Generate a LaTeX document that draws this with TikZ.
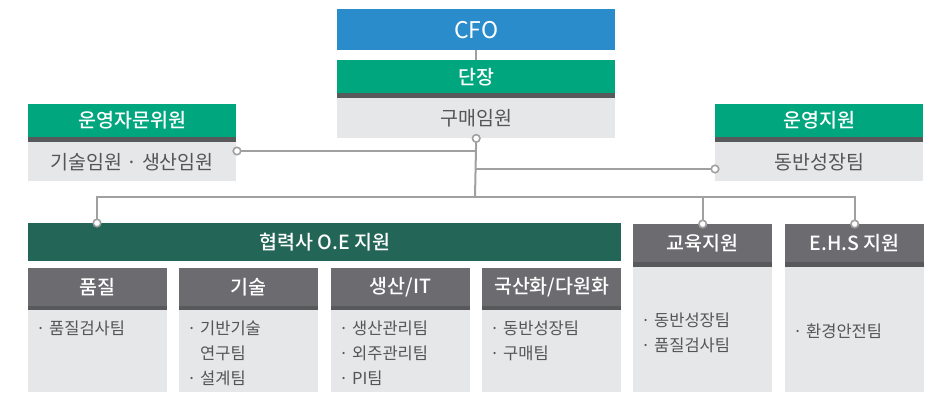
\documentclass[tikz,border=0pt]{standalone}
\usepackage{fontspec}
\setmainfont{Noto Sans CJK KR}
\newfontfamily\hdfont{Noto Sans CJK KR Medium}
\usepackage{tikz}
\usetikzlibrary{calc}

\definecolor{cfoblue}{HTML}{2A8CCB}
\definecolor{leadgreen}{HTML}{00A67E}
\definecolor{pinegreen}{HTML}{236658}
\definecolor{headgray}{HTML}{6B6B70}
\definecolor{stripgray}{HTML}{58595B}
\definecolor{boxgray}{HTML}{E6E7E9}
\definecolor{itemgray}{HTML}{555555}
\definecolor{wiregray}{HTML}{A0A0A0}

\tikzset{
	hd/.style={fill=#1, text=white, font=\hdfont\fontsize{19.5}{22}\selectfont, inner sep=0pt, anchor=north west},
	bd/.style={fill=boxgray, text=itemgray, font=\fontsize{19.5}{22}\selectfont, inner sep=0pt, anchor=north west},
	wire/.style={draw=wiregray, line width=2pt},
	dot/.style={circle, draw=wiregray, fill=white, line width=1.6pt, minimum size=7.5pt, inner sep=0pt},
	item/.style={text=itemgray, font=\fontsize{16.5}{25}\selectfont, align=left, inner sep=0pt},
}

\begin{document}
\begin{tikzpicture}[x=1pt, y=-1pt]
			%%%%% START %%%%%
			\useasboundingbox (0, 0) rectangle (929, 392);
			
			% top
			\node[hd=cfoblue, minimum width=278pt, minimum height=41pt, font=\fontsize{23}{26}\selectfont] (cfo) at (337, 9) {CFO};
			\node[hd=leadgreen, minimum width=278pt, minimum height=33pt] (dz) at (337, 60) {단장};
			\node[bd, minimum width=278pt, minimum height=40pt] (gm) at (337, 98) {구매임원};
			\fill[stripgray] (dz.south west) rectangle (gm.north east);
			
			% side boxes
			\node[hd=leadgreen, minimum width=208pt, minimum height=33pt] (adv) at (28, 104) {운영자문위원};
			\node[bd, minimum width=208pt, minimum height=39pt] (advb) at (28, 142) {기술임원 · 생산임원};
			\fill[stripgray] (adv.south west) rectangle (advb.north east);
			
			\node[hd=leadgreen, minimum width=208pt, minimum height=33pt] (op) at (715, 104) {운영지원};
			\node[bd, minimum width=208pt, minimum height=39pt] (opb) at (715, 142) {동반성장팀};
			\fill[stripgray] (op.south west) rectangle (opb.north east);
			
			% bottom row
			\node[hd=pinegreen, minimum width=593pt, minimum height=38pt] (hr) at (28, 223) {협력사 O.E 지원};
			
			\node[hd=headgray, minimum width=139pt, minimum height=38pt] (qa) at (28, 268) {품질};
			\node[bd, minimum width=139pt, minimum height=82pt] (qab) at (28, 310) {};
			\fill[stripgray] (qa.south west) rectangle (qab.north east);
			\node[hd=headgray, minimum width=139pt, minimum height=38pt] (tc) at (179, 268) {기술};
			\node[bd, minimum width=139pt, minimum height=82pt] (tcb) at (179, 310) {};
			\fill[stripgray] (tc.south west) rectangle (tcb.north east);
			\node[hd=headgray, minimum width=139pt, minimum height=38pt] (pd) at (331, 268) {생산/IT};
			\node[bd, minimum width=139pt, minimum height=82pt] (pdb) at (331, 310) {};
			\fill[stripgray] (pd.south west) rectangle (pdb.north east);
			\node[hd=headgray, minimum width=139pt, minimum height=38pt] (lc) at (482, 268) {국산화/다원화};
			\node[bd, minimum width=139pt, minimum height=82pt] (lcb) at (482, 310) {};
			\fill[stripgray] (lc.south west) rectangle (lcb.north east);
			
			\node[hd=headgray, minimum width=139pt, minimum height=38pt] (edu) at (633, 224) {교육지원};
			\node[bd, minimum width=139pt, minimum height=125pt] (edub) at (633, 267) {};
			\fill[stripgray] (edu.south west) rectangle (edub.north east);
			\node[hd=headgray, minimum width=139pt, minimum height=38pt] (ehs) at (785, 224) {E.H.S 지원};
			\node[bd, minimum width=139pt, minimum height=125pt] (ehsb) at (785, 267) {};
			\fill[stripgray] (ehs.south west) rectangle (ehsb.north east);
			
			% items
			\node[item, anchor=north west] (qai) at (36, 321) {· 품질검사팀};
			\node[item, anchor=north west] (tci) at (187, 321) {· 기반기술\\\hphantom{· }연구팀\\· 설계팀};
			\node[item, anchor=north west] (pdi) at (339, 321) {· 생산관리팀\\· 외주관리팀\\· PI팀};
			\node[item, anchor=north west] (lci) at (490, 321) {· 동반성장팀\\· 구매팀};
			\node[item, anchor=west] (edui) at (641, 333) {· 동반성장팀\\· 품질검사팀};
			\node[item, anchor=west] (ehsi) at (793, 331) {· 환경안전팀};
			
			% wires
			\coordinate (ad) at (237, 151);
			\coordinate (od) at (715, 169);
			\coordinate (hd) at (97, 223);
			\coordinate (bus) at (475, 197);
			
			\draw[wire] (cfo.south) -- (dz.north);
			\draw[wire] (gm.south) -- (bus);
			\draw[wire] (ad) -- (ad -| gm.south);
			\draw[wire] (od) -- (od -| gm.south);
			\draw[wire] (hd) |- (bus) -| (ehs.north);
			\draw[wire] (bus -| edu.north) -- (edu.north);
			
			\node[dot] (d1) at (gm.south) {};
			\node[dot] (d2) at (ad) {};
			\node[dot] (d3) at (od) {};
			\node[dot] (d4) at (hd) {};
			\node[dot] (d5) at (edu.north) {};
			\node[dot] (d6) at (ehs.north) {};
			%%%%% END %%%%%
\end{tikzpicture}
\end{document}
